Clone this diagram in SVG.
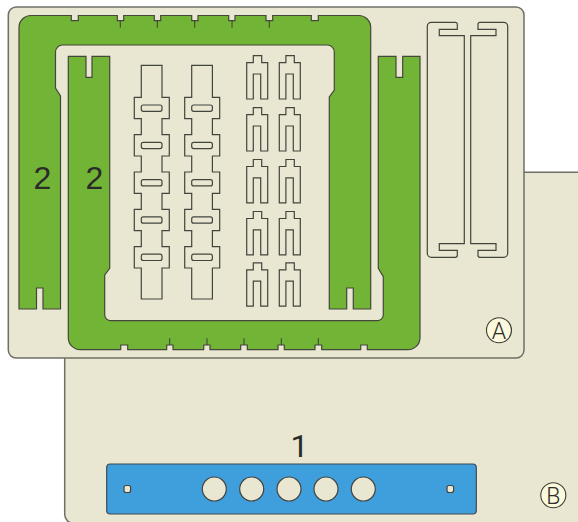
<svg xmlns="http://www.w3.org/2000/svg" width="578" height="522" viewBox="0 0 578 522">
<style>
.sheet{fill:#e9e6d1;stroke:#6f6f66;stroke-width:1.5}
.green{fill:#72b536;stroke:#44473c;stroke-width:1.2}
.cut{fill:#e9e6d1;stroke:#44443f;stroke-width:1.2}
.blue{fill:#3f9fdc;stroke:#3c4a50;stroke-width:1.2}
.tick{fill:none;stroke:#3c3f34;stroke-width:1}
.badge{fill:#fdf9dc;stroke:#3c3c38;stroke-width:1.1}
.num{font-family:"Liberation Sans",Arial,sans-serif;font-size:32px;fill:#2b2b2b;text-anchor:middle}
.one{font-family:Roboto,"Liberation Sans",sans-serif;font-size:32px;fill:#2b2b2b;text-anchor:middle}
.let{font-family:Roboto,"Liberation Sans",sans-serif;font-weight:300;font-size:23px;fill:#2b2b2b;text-anchor:middle}
</style>
<defs>
<g id="ladder">
<path class="cut" d="M141.3 65.3H162V97.3H169.3V118.7H162V134.7H169.3V156H162V172H169.3V193.4H162V209.3H169.3V230.7H162V246.7H169.3V268H162V299H141.3V268H134.3V246.7H141.3V230.7H134.3V209.3H141.3V193.4H134.3V172H141.3V156H134.3V134.7H141.3V118.7H134.3V97.3H141.3Z"/>
<rect class="cut" x="141.3" y="105" width="20.7" height="6.3" rx="2"/>
<rect class="cut" x="141.3" y="142.3" width="20.7" height="6.3" rx="2"/>
<rect class="cut" x="141.3" y="179.6" width="20.7" height="6.3" rx="2"/>
<rect class="cut" x="141.3" y="216.9" width="20.7" height="6.3" rx="2"/>
<rect class="cut" x="141.3" y="254.2" width="20.7" height="6.3" rx="2"/>
</g>
<path id="fork" class="cut" d="M253.3 55.7H261.7V62.7H267.7V99H260.7V74H253.3V99H246.7V62.7H253.3Z"/>
</defs>

<g id="sheet-b"><rect class="sheet" x="64.7" y="172.3" width="530" height="351" rx="9"/></g>
<g id="sheet-a"><rect class="sheet" x="8.3" y="7" width="515.7" height="351" rx="8"/></g>

<g id="green-top">
<path class="green" d="M31 15.5H71.3V20.7H78.3V15.5H117.3V20.7H123.7V15.5H154.3V20.7H160.7V15.5H191.7V20.7H198V15.5H228.7V20.7H235V15.5H266V20.7H272.7V15.5H311.3V20.7H318.3V15.5H358.7A12 12 0 0 1 370.7 27.5V309H353.3V288H346.7V309H329.3V97L334.3 90V52A7 7 0 0 0 327.3 45H62.5A7 7 0 0 0 55.5 52V88L60.5 96V309H43V288H36.5V309H19V27.5A12 12 0 0 1 31 15.5Z"/>
<path class="tick" d="M120.3 20.7V27.7M157.3 20.7V27.7M194.7 20.7V27.7M232 20.7V27.7M269.3 20.7V27.7"/>
</g>
<g id="green-bottom">
<path class="green" d="M68.3 56.3H86V77.3H92V56.3H109.7V268.3L104.7 275V314.7A6 6 0 0 0 110.7 320.7H377.3A6 6 0 0 0 383.3 314.7V276.7L378.3 268.3V56.3H396V77.3H402.7V56.3H420V337.7A12 12 0 0 1 408 349.7H367.3V345H360.7V349.7H321.7V345H315V349.7H284.3V345H278V349.7H247.3V345H240.7V349.7H210V345H203.7V349.7H173V345H166.7V349.7H127.7V345H120.7V349.7H80.3A12 12 0 0 1 68.3 337.7Z"/>
<path class="tick" d="M169.7 345V338.3M207 345V338.3M244 345V338.3M281.3 345V338.3M318.3 345V338.3"/>
</g>

<g id="ladders">
<use href="#ladder"/>
<use href="#ladder" x="50.4"/>
</g>
<g id="forks">
<use href="#fork"/><use href="#fork" y="52"/><use href="#fork" y="103.8"/><use href="#fork" y="155.8"/><use href="#fork" y="207.2"/>
<use href="#fork" x="32.6"/><use href="#fork" x="32.6" y="52"/><use href="#fork" x="32.6" y="103.8"/><use href="#fork" x="32.6" y="155.8"/><use href="#fork" x="32.6" y="207.2"/>
</g>
<g id="strips">
<path class="cut" d="M431.3 22.3H455.3A2 2 0 0 1 457.3 24.3V29.3H439.3V35.7H464.3V243.7H439.3V250.3H457.3V255.3A2 2 0 0 1 455.3 257.3H431.3A4 4 0 0 1 427.3 253.3V26.3A4 4 0 0 1 431.3 22.3Z"/>
<path class="cut" d="M503.7 22.3H480A2 2 0 0 0 478 24.3V29.3H496V35.7H470.7V243.7H496V250.3H478V255.3A2 2 0 0 0 480 257.3H503.7A4 4 0 0 0 507.7 253.3V26.3A4 4 0 0 0 503.7 22.3Z"/>
</g>
<g id="bar">
<rect class="blue" x="106.7" y="464" width="369.6" height="50" rx="3.5"/>
<circle class="cut" cx="214.3" cy="489" r="12"/>
<circle class="cut" cx="251.7" cy="489" r="12"/>
<circle class="cut" cx="289" cy="489" r="12"/>
<circle class="cut" cx="326" cy="489" r="12"/>
<circle class="cut" cx="363.3" cy="489" r="12"/>
<rect class="cut" x="124" y="485.5" width="6.6" height="7" rx="2"/>
<rect class="cut" x="447" y="485.5" width="6.6" height="7" rx="2"/>
</g>
<g id="labels">
<text class="num" x="42.5" y="189">2</text>
<text class="num" x="94.5" y="189">2</text>
<text class="one" x="299.5" y="457">1</text>
</g>
<g id="badge-a"><circle class="badge" cx="499" cy="330.3" r="12.5"/><text class="let" x="499" y="338.5">A</text></g>
<g id="badge-b"><circle class="badge" cx="553.3" cy="495.3" r="12.5"/><text class="let" x="553.3" y="503.5">B</text></g>
</svg>
